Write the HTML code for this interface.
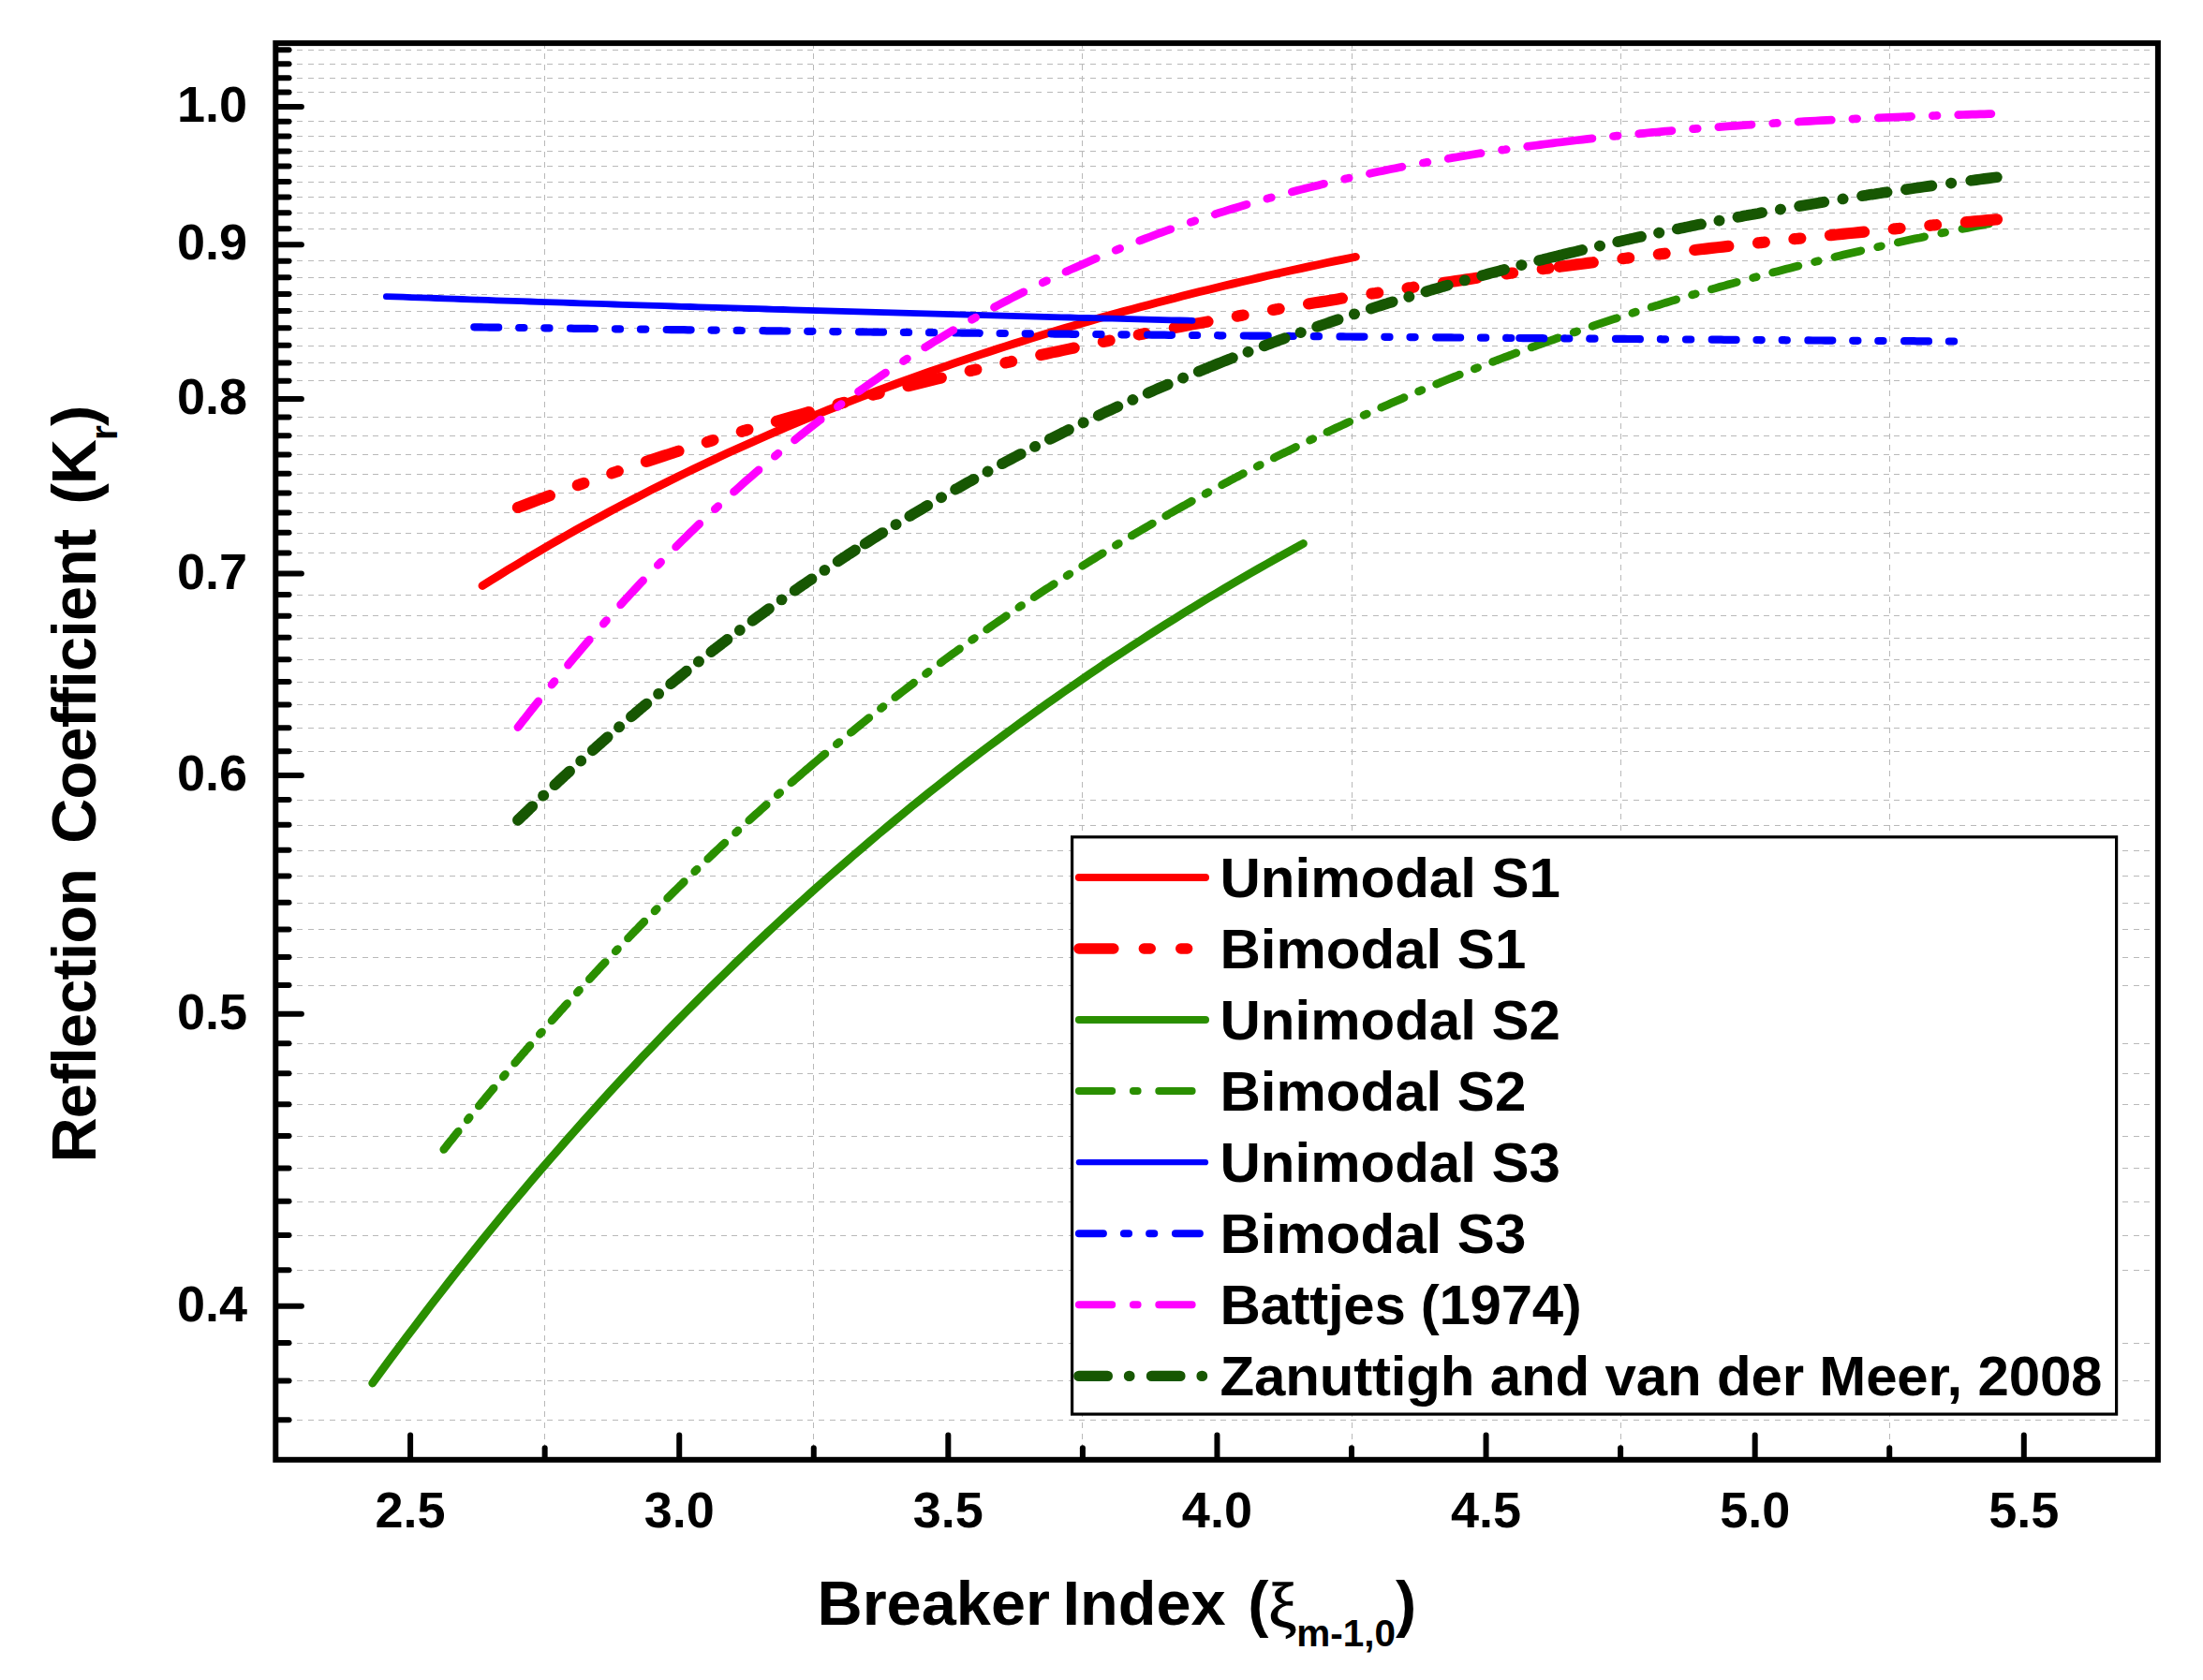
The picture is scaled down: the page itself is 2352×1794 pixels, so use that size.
<!DOCTYPE html>
<html lang="en"><head><meta charset="utf-8"><title>Reflection Coefficient vs Breaker Index</title>
<style>html,body{margin:0;padding:0;background:#fff}svg{display:block}text{font-family:"Liberation Sans",Arial,Helvetica,sans-serif;font-weight:bold;fill:#000;font-variant-ligatures:none}.xi{font-family:"Liberation Serif","DejaVu Serif",serif;font-weight:normal;stroke:#000;stroke-width:1.3px}</style></head><body>
<svg width="2352" height="1794" viewBox="0 0 2352 1794">
<rect width="2352" height="1794" fill="#fff"/>
<g stroke="#b9b9b9" stroke-width="1" stroke-dasharray="6 5.6" fill="none" shape-rendering="crispEdges">
<line x1="294" y1="1516.5" x2="2301" y2="1516.5"/>
<line x1="294" y1="1474.5" x2="2301" y2="1474.5"/>
<line x1="294" y1="1434.5" x2="2301" y2="1434.5"/>
<line x1="294" y1="1356.5" x2="2301" y2="1356.5"/>
<line x1="294" y1="1319.5" x2="2301" y2="1319.5"/>
<line x1="294" y1="1283.5" x2="2301" y2="1283.5"/>
<line x1="294" y1="1247.5" x2="2301" y2="1247.5"/>
<line x1="294" y1="1213.5" x2="2301" y2="1213.5"/>
<line x1="294" y1="1179.5" x2="2301" y2="1179.5"/>
<line x1="294" y1="1146.5" x2="2301" y2="1146.5"/>
<line x1="294" y1="1114.5" x2="2301" y2="1114.5"/>
<line x1="294" y1="1052.5" x2="2301" y2="1052.5"/>
<line x1="294" y1="1022.5" x2="2301" y2="1022.5"/>
<line x1="294" y1="992.5" x2="2301" y2="992.5"/>
<line x1="294" y1="964.5" x2="2301" y2="964.5"/>
<line x1="294" y1="935.5" x2="2301" y2="935.5"/>
<line x1="294" y1="908.5" x2="2301" y2="908.5"/>
<line x1="294" y1="881.5" x2="2301" y2="881.5"/>
<line x1="294" y1="854.5" x2="2301" y2="854.5"/>
<line x1="294" y1="802.5" x2="2301" y2="802.5"/>
<line x1="294" y1="777.5" x2="2301" y2="777.5"/>
<line x1="294" y1="752.5" x2="2301" y2="752.5"/>
<line x1="294" y1="728.5" x2="2301" y2="728.5"/>
<line x1="294" y1="704.5" x2="2301" y2="704.5"/>
<line x1="294" y1="681.5" x2="2301" y2="681.5"/>
<line x1="294" y1="657.5" x2="2301" y2="657.5"/>
<line x1="294" y1="635.5" x2="2301" y2="635.5"/>
<line x1="294" y1="590.5" x2="2301" y2="590.5"/>
<line x1="294" y1="569.5" x2="2301" y2="569.5"/>
<line x1="294" y1="547.5" x2="2301" y2="547.5"/>
<line x1="294" y1="526.5" x2="2301" y2="526.5"/>
<line x1="294" y1="506.5" x2="2301" y2="506.5"/>
<line x1="294" y1="485.5" x2="2301" y2="485.5"/>
<line x1="294" y1="465.5" x2="2301" y2="465.5"/>
<line x1="294" y1="445.5" x2="2301" y2="445.5"/>
<line x1="294" y1="406.5" x2="2301" y2="406.5"/>
<line x1="294" y1="387.5" x2="2301" y2="387.5"/>
<line x1="294" y1="369.5" x2="2301" y2="369.5"/>
<line x1="294" y1="350.5" x2="2301" y2="350.5"/>
<line x1="294" y1="332.5" x2="2301" y2="332.5"/>
<line x1="294" y1="314.5" x2="2301" y2="314.5"/>
<line x1="294" y1="296.5" x2="2301" y2="296.5"/>
<line x1="294" y1="278.5" x2="2301" y2="278.5"/>
<line x1="294" y1="244.5" x2="2301" y2="244.5"/>
<line x1="294" y1="227.5" x2="2301" y2="227.5"/>
<line x1="294" y1="210.5" x2="2301" y2="210.5"/>
<line x1="294" y1="194.5" x2="2301" y2="194.5"/>
<line x1="294" y1="177.5" x2="2301" y2="177.5"/>
<line x1="294" y1="161.5" x2="2301" y2="161.5"/>
<line x1="294" y1="145.5" x2="2301" y2="145.5"/>
<line x1="294" y1="129.5" x2="2301" y2="129.5"/>
<line x1="294" y1="98.5" x2="2301" y2="98.5"/>
<line x1="294" y1="83.5" x2="2301" y2="83.5"/>
<line x1="294" y1="68.5" x2="2301" y2="68.5"/>
<line x1="294" y1="53.5" x2="2301" y2="53.5"/>
<line x1="581.5" y1="45.7" x2="581.5" y2="1558.8"/>
<line x1="868.5" y1="45.7" x2="868.5" y2="1558.8"/>
<line x1="1155.5" y1="45.7" x2="1155.5" y2="1558.8"/>
<line x1="1443.5" y1="45.7" x2="1443.5" y2="1558.8"/>
<line x1="1730.5" y1="45.7" x2="1730.5" y2="1558.8"/>
<line x1="2017.5" y1="45.7" x2="2017.5" y2="1558.8"/>
</g>
<g fill="none" stroke-linecap="round" stroke-linejoin="round">
<path d="M397.7,1477.0 L406.7,1464.7 L415.7,1452.4 L424.7,1440.3 L433.8,1428.2 L442.8,1416.3 L451.8,1404.5 L460.8,1392.7 L469.8,1381.1 L478.8,1369.5 L487.8,1358.1 L496.8,1346.7 L505.8,1335.5 L514.8,1324.3 L523.8,1313.2 L532.8,1302.2 L541.8,1291.3 L550.8,1280.5 L559.8,1269.8 L568.8,1259.2 L577.8,1248.6 L586.9,1238.2 L595.9,1227.8 L604.9,1217.5 L613.9,1207.3 L622.9,1197.2 L631.9,1187.2 L640.9,1177.2 L649.9,1167.3 L658.9,1157.5 L667.9,1147.8 L676.9,1138.2 L685.9,1128.6 L694.9,1119.2 L703.9,1109.8 L712.9,1100.4 L721.9,1091.2 L730.9,1082.0 L740.0,1072.9 L749.0,1063.9 L758.0,1054.9 L767.0,1046.1 L776.0,1037.3 L785.0,1028.5 L794.0,1019.9 L803.0,1011.3 L812.0,1002.7 L821.0,994.3 L830.0,985.9 L839.0,977.6 L848.0,969.3 L857.0,961.2 L866.0,953.0 L875.0,945.0 L884.0,937.0 L893.1,929.1 L902.1,921.3 L911.1,913.5 L920.1,905.8 L929.1,898.1 L938.1,890.5 L947.1,883.0 L956.1,875.5 L965.1,868.1 L974.1,860.7 L983.1,853.5 L992.1,846.2 L1001.1,839.1 L1010.1,832.0 L1019.1,824.9 L1028.1,817.9 L1037.1,811.0 L1046.2,804.1 L1055.2,797.3 L1064.2,790.6 L1073.2,783.9 L1082.2,777.2 L1091.2,770.6 L1100.2,764.1 L1109.2,757.6 L1118.2,751.2 L1127.2,744.8 L1136.2,738.5 L1145.2,732.3 L1154.2,726.1 L1163.2,719.9 L1172.2,713.8 L1181.2,707.7 L1190.2,701.8 L1199.3,695.8 L1208.3,689.9 L1217.3,684.1 L1226.3,678.3 L1235.3,672.5 L1244.3,666.8 L1253.3,661.2 L1262.3,655.6 L1271.3,650.0 L1280.3,644.5 L1289.3,639.1 L1298.3,633.7 L1307.3,628.3 L1316.3,623.0 L1325.3,617.7 L1334.3,612.5 L1343.3,607.4 L1352.4,602.2 L1361.4,597.2 L1370.4,592.1 L1379.4,587.1 L1388.4,582.2 L1391.4,580.5" stroke="#2a8f00" stroke-width="8.8"/>
<path d="M473.8,1227.5 L475.3,1225.6 L476.8,1223.7 L478.3,1221.8 L479.8,1219.9 L481.3,1218.0 L482.8,1216.2 L484.3,1214.3 L485.8,1212.4 L487.3,1210.5 L488.8,1208.7 L489.2,1208.2 M499.2,1195.8 L499.3,1195.7 L500.8,1193.8 L501.2,1193.3 M511.3,1181.0 L512.8,1179.2 L514.3,1177.4 L515.8,1175.5 L517.3,1173.7 L518.8,1171.9 L520.3,1170.1 L521.8,1168.3 L523.3,1166.5 L524.8,1164.7 L526.3,1162.9 L527.1,1162.0 M537.3,1149.8 L538.3,1148.6 L539.4,1147.3 M549.7,1135.2 L550.3,1134.5 L551.8,1132.7 L553.3,1131.0 L554.8,1129.2 L556.3,1127.5 L557.8,1125.7 L559.3,1124.0 L560.8,1122.3 L562.3,1120.5 L563.8,1118.8 L565.3,1117.1 L565.9,1116.4 M576.3,1104.4 L577.3,1103.3 L578.5,1102.0 M589.0,1090.0 L589.3,1089.7 L590.8,1088.0 L592.3,1086.4 L593.8,1084.7 L595.3,1083.0 L596.8,1081.3 L598.3,1079.6 L599.8,1078.0 L601.3,1076.3 L602.8,1074.6 L604.3,1073.0 L605.6,1071.6 M616.3,1059.8 L616.3,1059.7 L617.8,1058.1 L618.5,1057.4 M629.3,1045.6 L629.8,1045.0 L631.3,1043.4 L632.8,1041.8 L634.3,1040.2 L635.8,1038.6 L637.3,1037.0 L638.8,1035.3 L640.3,1033.7 L641.8,1032.1 L643.3,1030.5 L644.8,1028.9 L646.2,1027.5 M657.2,1015.9 L658.3,1014.7 L659.4,1013.5 M670.5,1002.0 L671.8,1000.6 L673.3,999.0 L674.8,997.4 L676.3,995.9 L677.8,994.3 L679.3,992.8 L680.9,991.3 L682.4,989.7 L683.9,988.2 L685.4,986.6 L686.9,985.1 L687.8,984.2 M699.0,972.8 L700.4,971.4 L701.3,970.5 M712.6,959.2 L713.9,957.9 L715.4,956.4 L716.9,954.9 L718.4,953.4 L719.9,951.9 L721.4,950.5 L722.9,949.0 L724.4,947.5 L725.9,946.0 L727.4,944.6 L728.9,943.1 L730.3,941.7 M741.7,930.6 L742.4,929.9 L743.9,928.5 L744.1,928.3 M755.7,917.2 L755.9,917.0 L758.9,914.1 L761.9,911.3 L764.9,908.4 L767.9,905.6 L770.9,902.8 L773.8,900.1 M785.5,889.2 L785.9,888.8 L787.4,887.4 L787.9,886.9 M799.7,876.1 L800.9,875.0 L803.9,872.3 L806.9,869.6 L809.9,866.9 L812.9,864.1 L815.9,861.4 L818.2,859.4 M830.2,848.7 L830.9,848.1 L832.4,846.8 L832.7,846.5 M844.8,835.9 L845.9,834.9 L847.4,833.6 L848.9,832.3 L850.4,831.0 L851.9,829.7 L853.4,828.4 L854.9,827.1 L856.4,825.8 L857.9,824.5 L859.4,823.2 L860.9,822.0 L861.9,821.1 M861.9,821.1 L862.4,820.7 L865.4,818.1 L868.4,815.5 L871.4,813.0 L874.4,810.5 L877.4,807.9 L880.4,805.4 L880.9,805.0 M893.3,794.7 L893.9,794.1 L895.4,792.9 L895.9,792.5 M908.3,782.3 L909.0,781.8 L912.0,779.3 L915.0,776.9 L918.0,774.5 L921.0,772.0 L924.0,769.6 L927.0,767.2 L927.8,766.6 M940.4,756.5 L940.5,756.5 L942.0,755.3 L943.0,754.5 M955.7,744.5 L957.0,743.5 L960.0,741.2 L963.0,738.9 L966.0,736.6 L969.0,734.3 L972.0,732.0 L975.0,729.7 L975.6,729.2 M988.5,719.4 L990.0,718.3 L991.2,717.4 M1004.1,707.8 L1005.0,707.2 L1008.0,704.9 L1011.0,702.7 L1014.0,700.5 L1017.0,698.3 L1020.0,696.2 L1023.0,694.0 L1024.5,692.9 M1037.6,683.4 L1038.0,683.2 L1039.5,682.1 L1040.4,681.5 M1053.6,672.1 L1054.5,671.5 L1057.5,669.4 L1060.5,667.3 L1063.5,665.2 L1066.5,663.1 L1069.5,661.1 L1072.5,659.0 L1074.4,657.7 M1087.8,648.5 L1089.0,647.7 L1090.5,646.7 L1090.6,646.7 M1104.1,637.6 L1105.5,636.7 L1108.5,634.7 L1111.5,632.7 L1114.5,630.7 L1117.5,628.7 L1120.5,626.8 L1123.5,624.8 L1125.3,623.7 M1139.1,614.8 L1140.1,614.2 L1141.6,613.2 L1141.9,613.0 M1155.7,604.2 L1156.6,603.7 L1159.6,601.8 L1162.6,599.9 L1165.6,598.1 L1168.6,596.2 L1171.6,594.3 L1174.6,592.5 L1177.3,590.8 M1191.4,582.2 L1192.6,581.5 L1194.1,580.6 L1194.3,580.5 M1208.3,572.0 L1209.1,571.6 L1212.1,569.8 L1215.1,568.0 L1218.1,566.3 L1221.1,564.5 L1224.1,562.7 L1227.1,561.0 L1230.1,559.2 L1230.4,559.1 M1244.7,550.8 L1245.1,550.6 L1246.6,549.8 L1247.7,549.1 M1250.0,547.8 L1251.1,547.2 L1254.1,545.5 L1257.1,543.8 L1260.1,542.1 L1263.1,540.4 L1266.1,538.8 L1269.1,537.1 L1272.1,535.4 L1272.4,535.2 M1287.0,527.3 L1287.1,527.2 L1288.6,526.4 L1290.0,525.6 M1304.6,517.8 L1305.1,517.5 L1308.1,515.9 L1311.1,514.3 L1314.1,512.7 L1317.1,511.1 L1320.1,509.5 L1323.1,508.0 L1326.1,506.4 L1327.4,505.7 M1342.2,498.1 L1342.6,497.9 L1344.1,497.1 L1345.3,496.5 M1360.2,489.0 L1360.6,488.7 L1363.6,487.2 L1366.7,485.7 L1369.7,484.2 L1372.7,482.8 L1375.7,481.3 L1378.7,479.8 L1381.7,478.3 L1383.5,477.4 M1398.6,470.1 L1399.7,469.6 L1401.2,468.9 L1401.7,468.6 M1416.9,461.4 L1417.7,461.1 L1420.7,459.6 L1423.7,458.2 L1426.7,456.8 L1429.7,455.5 L1432.7,454.1 L1435.7,452.7 L1438.7,451.3 L1440.7,450.4 M1456.1,443.4 L1456.7,443.1 L1458.2,442.5 L1459.3,442.0 M1474.7,435.1 L1476.2,434.5 L1479.2,433.2 L1482.2,431.9 L1485.2,430.6 L1488.2,429.3 L1491.2,428.0 L1494.2,426.7 L1497.2,425.4 L1499.0,424.6 M1514.6,418.0 L1515.2,417.7 L1516.7,417.1 L1517.9,416.6 M1533.6,410.1 L1534.7,409.7 L1537.7,408.4 L1540.7,407.2 L1543.7,406.0 L1546.7,404.8 L1549.7,403.6 L1552.7,402.4 L1555.7,401.2 L1558.3,400.1 M1574.3,393.8 L1575.2,393.5 L1576.7,392.9 L1577.6,392.6 M1593.6,386.4 L1594.8,386.0 L1597.8,384.8 L1600.8,383.7 L1603.8,382.5 L1606.8,381.4 L1609.8,380.3 L1612.8,379.2 L1615.8,378.0 L1618.8,376.9 L1618.8,376.9 M1635.1,371.0 L1635.3,370.9 L1636.8,370.3 L1638.1,369.8 M1638.1,369.8 L1638.3,369.8 L1641.3,368.7 L1644.3,367.6 L1647.3,366.6 L1650.3,365.5 L1653.3,364.4 L1656.3,363.4 L1659.3,362.3 L1662.3,361.2 L1663.7,360.8 M1680.1,355.0 L1680.3,355.0 L1681.8,354.5 L1683.3,354.0 L1683.6,353.9 M1700.1,348.3 L1701.3,347.9 L1704.3,346.9 L1707.3,345.9 L1710.3,344.9 L1713.3,343.9 L1716.3,342.9 L1719.3,341.9 L1722.3,340.9 L1725.3,340.0 L1726.1,339.7 M1742.8,334.3 L1743.3,334.2 L1744.8,333.7 L1746.3,333.2 M1763.1,328.0 L1764.3,327.6 L1767.3,326.7 L1770.3,325.8 L1773.3,324.8 L1776.3,323.9 L1779.3,323.0 L1782.3,322.1 L1785.3,321.2 L1788.3,320.3 L1789.6,319.9 M1806.6,314.9 L1807.8,314.5 L1809.3,314.1 L1810.2,313.8 M1827.3,308.9 L1827.4,308.9 L1831.9,307.6 L1836.4,306.3 L1840.9,305.1 L1845.4,303.8 L1849.9,302.6 L1854.2,301.4 M1871.6,296.6 L1872.4,296.4 L1873.9,296.0 L1875.2,295.7 M1892.6,291.0 L1893.4,290.8 L1897.9,289.7 L1902.4,288.5 L1906.9,287.3 L1911.4,286.2 L1915.9,285.0 L1919.9,284.0 M1937.6,279.6 L1938.4,279.4 L1939.9,279.0 L1941.2,278.7 M1958.9,274.4 L1959.4,274.3 L1963.9,273.2 L1968.4,272.1 L1972.9,271.0 L1977.4,270.0 L1981.9,268.9 L1986.4,267.9 L1986.8,267.8 M2004.7,263.7 L2005.9,263.4 L2007.4,263.1 L2008.4,262.8 M2026.3,258.9 L2026.9,258.7 L2031.4,257.8 L2035.9,256.8 L2040.4,255.8 L2044.9,254.8 L2049.5,253.9 L2054.0,252.9 L2054.6,252.8 M2072.8,249.0 L2073.5,248.8 L2075.0,248.5 L2076.5,248.2 L2076.6,248.2 M2094.9,244.5 L2096.0,244.3 L2100.5,243.4 L2105.0,242.5 L2109.5,241.6 L2114.0,240.7 L2118.5,239.8 L2123.0,239.0 L2123.7,238.8" stroke="#2a8f00" stroke-width="8.7"/>
<path d="M515.0,625.5 L524.1,619.8 L533.1,614.2 L542.1,608.6 L551.1,603.2 L560.1,597.7 L569.1,592.4 L578.1,587.1 L587.1,581.8 L596.1,576.6 L605.1,571.5 L614.1,566.4 L623.1,561.4 L632.1,556.5 L641.2,551.6 L650.2,546.7 L659.2,541.9 L668.2,537.2 L677.2,532.5 L686.2,527.8 L695.2,523.2 L704.2,518.7 L713.2,514.2 L722.2,509.8 L731.2,505.4 L740.2,501.0 L749.3,496.7 L758.3,492.5 L767.3,488.3 L776.3,484.1 L785.3,480.0 L794.3,476.0 L803.3,471.9 L812.3,468.0 L821.3,464.0 L830.3,460.1 L839.3,456.3 L848.3,452.5 L857.3,448.7 L866.4,445.0 L875.4,441.3 L884.4,437.7 L893.4,434.1 L902.4,430.5 L911.4,427.0 L920.4,423.5 L929.4,420.1 L938.4,416.7 L947.4,413.3 L956.4,410.0 L965.4,406.7 L974.5,403.4 L983.5,400.2 L992.5,397.0 L1001.5,393.9 L1010.5,390.8 L1019.5,387.7 L1028.5,384.6 L1037.5,381.6 L1046.5,378.6 L1055.5,375.7 L1064.5,372.8 L1073.5,369.9 L1082.5,367.0 L1091.6,364.2 L1100.6,361.4 L1109.6,358.6 L1118.6,355.9 L1127.6,353.2 L1136.6,350.5 L1145.6,347.9 L1154.6,345.3 L1163.6,342.7 L1172.6,340.1 L1181.6,337.6 L1190.6,335.1 L1199.6,332.6 L1208.7,330.2 L1217.7,327.8 L1226.7,325.4 L1235.7,323.0 L1244.7,320.7 L1253.7,318.4 L1262.7,316.1 L1271.7,313.8 L1280.7,311.6 L1289.7,309.4 L1298.7,307.2 L1307.7,305.0 L1316.8,302.9 L1325.8,300.7 L1334.8,298.7 L1343.8,296.6 L1352.8,294.5 L1361.8,292.5 L1370.8,290.5 L1379.8,288.5 L1388.8,286.6 L1397.8,284.6 L1406.8,282.7 L1415.8,280.8 L1424.8,278.9 L1433.9,277.1 L1442.9,275.2 L1447.4,274.3" stroke="#ff0000" stroke-width="8.8"/>
<path d="M552.9,542.0 L554.4,541.4 L559.0,539.7 L563.5,538.0 L568.0,536.3 L572.5,534.6 L577.0,532.9 L581.5,531.2 L586.0,529.5 L586.9,529.2 M616.8,518.2 L617.5,518.0 L619.0,517.4 L620.5,516.9 L622.0,516.4 L623.3,515.9 M653.3,505.4 L653.5,505.3 L655.0,504.8 L656.5,504.2 L658.0,503.7 L659.5,503.2 L659.8,503.1 M689.9,492.9 L691.0,492.6 L695.5,491.1 L700.1,489.6 L704.6,488.1 L709.1,486.6 L713.6,485.2 L718.1,483.7 L722.6,482.3 L724.5,481.6 M754.8,472.1 L755.6,471.8 L757.1,471.4 L758.6,470.9 L760.1,470.4 L761.4,470.0 M791.8,460.8 L793.1,460.4 L794.6,459.9 L796.1,459.5 L797.6,459.0 L798.4,458.8 M828.9,449.9 L829.1,449.8 L835.1,448.1 L841.2,446.4 L847.2,444.7 L853.2,443.0 L859.2,441.3 L863.9,440.0 M894.6,431.6 L895.2,431.4 L896.7,431.0 L898.2,430.6 L899.7,430.2 L901.2,429.8 L901.2,429.8 M932.0,421.7 L932.7,421.5 L934.2,421.1 L935.7,420.7 L937.2,420.4 L938.7,420.0 M969.5,412.2 L970.2,412.0 L976.2,410.5 L982.3,409.0 L988.3,407.5 L994.3,406.0 L1000.3,404.6 L1004.8,403.5 M1035.7,396.1 L1036.3,396.0 L1037.8,395.6 L1039.3,395.3 L1040.8,394.9 L1042.3,394.6 L1042.4,394.6 M1073.4,387.5 L1073.8,387.4 L1075.3,387.0 L1076.8,386.7 L1078.3,386.4 L1079.8,386.0 L1080.1,385.9 M1111.2,379.1 L1111.3,379.0 L1117.4,377.7 L1123.4,376.4 L1129.4,375.2 L1135.4,373.9 L1141.4,372.6 L1146.7,371.5 M1177.9,365.0 L1178.9,364.8 L1180.4,364.5 L1181.9,364.2 L1183.4,363.9 L1184.6,363.6 M1215.8,357.4 L1216.4,357.3 L1217.9,357.0 L1219.4,356.7 L1220.9,356.4 L1222.4,356.1 L1222.6,356.1 M1253.8,350.0 L1253.9,350.0 L1260.0,348.9 L1266.0,347.7 L1272.0,346.6 L1278.0,345.5 L1284.0,344.4 L1289.5,343.4 M1320.8,337.7 L1321.5,337.6 L1323.0,337.3 L1324.5,337.0 L1326.0,336.7 L1327.5,336.5 L1327.6,336.5 M1358.9,331.0 L1359.0,331.0 L1360.5,330.7 L1362.0,330.4 L1363.5,330.2 L1365.0,329.9 L1365.7,329.8 M1397.1,324.5 L1398.1,324.3 L1404.1,323.3 L1410.1,322.4 L1416.1,321.4 L1422.1,320.4 L1428.1,319.4 L1432.9,318.6 M1464.4,313.6 L1465.6,313.4 L1467.1,313.2 L1468.6,313.0 L1470.1,312.7 L1471.2,312.6 M1502.6,307.7 L1503.1,307.6 L1504.6,307.4 L1506.1,307.2 L1507.6,307.0 L1509.1,306.7 L1509.4,306.7 M1540.9,302.0 L1542.2,301.8 L1548.2,301.0 L1554.2,300.1 L1560.2,299.2 L1566.2,298.4 L1572.2,297.5 L1576.8,296.8 M1608.3,292.4 L1609.7,292.2 L1611.2,292.0 L1612.7,291.8 L1614.2,291.6 L1615.1,291.5 M1646.7,287.2 L1647.2,287.2 L1648.7,287.0 L1650.2,286.8 L1651.7,286.6 L1653.2,286.4 L1653.5,286.3 M1664.8,284.8 L1665.2,284.8 L1671.2,284.0 L1677.3,283.2 L1683.3,282.4 L1689.3,281.7 L1695.3,280.9 L1700.8,280.2 M1732.4,276.2 L1732.8,276.2 L1734.3,276.0 L1735.8,275.8 L1737.3,275.6 L1738.8,275.4 L1739.2,275.4 M1770.8,271.5 L1771.8,271.4 L1773.3,271.2 L1774.8,271.1 L1776.3,270.9 L1777.6,270.7 M1809.2,267.0 L1809.3,267.0 L1815.4,266.3 L1821.4,265.6 L1827.4,264.9 L1833.4,264.2 L1839.4,263.6 L1845.3,262.9 M1877.0,259.4 L1878.4,259.2 L1879.9,259.1 L1881.4,258.9 L1882.9,258.7 L1883.8,258.6 M1915.4,255.2 L1915.9,255.2 L1917.4,255.0 L1918.9,254.9 L1920.4,254.7 L1921.9,254.6 L1922.3,254.5 M1953.9,251.2 L1955.0,251.1 L1961.0,250.5 L1967.0,249.9 L1973.0,249.3 L1979.0,248.7 L1985.0,248.1 L1990.1,247.6 M2021.7,244.5 L2022.5,244.4 L2024.0,244.3 L2025.5,244.1 L2027.0,244.0 L2028.5,243.8 L2028.6,243.8 M2060.3,240.8 L2061.5,240.7 L2063.0,240.5 L2064.5,240.4 L2066.0,240.3 L2067.1,240.2 M2098.8,237.2 L2099.1,237.2 L2103.6,236.8 L2108.1,236.4 L2112.6,236.0 L2117.1,235.6 L2121.6,235.2 L2126.1,234.8 L2130.6,234.4 L2132.1,234.3" stroke="#ff0000" stroke-width="12.2"/>
<path d="M412.4,316.6 L421.4,316.9 L430.4,317.2 L439.4,317.6 L448.4,317.9 L457.4,318.2 L466.4,318.5 L475.5,318.9 L484.5,319.2 L493.5,319.5 L502.5,319.8 L511.5,320.1 L520.5,320.4 L529.5,320.8 L538.5,321.1 L547.6,321.4 L556.6,321.7 L565.6,322.0 L574.6,322.3 L583.6,322.6 L592.6,322.9 L601.6,323.2 L610.6,323.5 L619.7,323.8 L628.7,324.1 L637.7,324.4 L646.7,324.7 L655.7,325.0 L664.7,325.3 L673.7,325.6 L682.7,325.8 L691.7,326.1 L700.8,326.4 L709.8,326.7 L718.8,327.0 L727.8,327.3 L736.8,327.5 L745.8,327.8 L754.8,328.1 L763.8,328.4 L772.9,328.6 L781.9,328.9 L790.9,329.2 L799.9,329.5 L808.9,329.7 L817.9,330.0 L826.9,330.3 L835.9,330.5 L845.0,330.8 L854.0,331.1 L863.0,331.3 L872.0,331.6 L881.0,331.9 L890.0,332.1 L899.0,332.4 L908.0,332.6 L917.1,332.9 L926.1,333.2 L935.1,333.4 L944.1,333.7 L953.1,333.9 L962.1,334.2 L971.1,334.4 L980.1,334.7 L989.1,334.9 L998.2,335.2 L1007.2,335.4 L1016.2,335.7 L1025.2,335.9 L1034.2,336.2 L1043.2,336.4 L1052.2,336.6 L1061.2,336.9 L1070.3,337.1 L1079.3,337.4 L1088.3,337.6 L1097.3,337.8 L1106.3,338.1 L1115.3,338.3 L1124.3,338.6 L1133.3,338.8 L1142.4,339.0 L1151.4,339.3 L1160.4,339.5 L1169.4,339.7 L1178.4,340.0 L1187.4,340.2 L1196.4,340.4 L1205.4,340.6 L1214.5,340.9 L1223.5,341.1 L1232.5,341.3 L1241.5,341.6 L1250.5,341.8 L1259.5,342.0 L1268.5,342.2 L1273.0,342.3" stroke="#0000ff" stroke-width="6.8"/>
<path d="M506.3,349.3 L507.8,349.3 L510.8,349.4 L513.8,349.4 L516.8,349.5 L519.8,349.5 L522.8,349.6 L525.8,349.6 L528.8,349.6 L531.8,349.7 L532.2,349.7 M554.2,350.0 L554.3,350.0 L555.8,350.0 L557.4,350.0 L558.9,350.0 L559.4,350.0 M581.3,350.3 L581.4,350.3 L582.9,350.4 L584.4,350.4 L585.9,350.4 L586.5,350.4 M609.0,350.7 L609.9,350.7 L612.9,350.8 L615.9,350.8 L618.9,350.8 L621.9,350.9 L624.9,350.9 L627.9,350.9 L630.9,351.0 L633.9,351.0 L634.9,351.0 M656.9,351.3 L657.9,351.3 L659.4,351.3 L660.9,351.4 L662.0,351.4 M684.0,351.7 L684.9,351.7 L686.4,351.7 L687.9,351.7 L689.2,351.7 M711.7,352.0 L711.9,352.0 L716.4,352.1 L721.0,352.1 L725.5,352.2 L730.0,352.2 L734.5,352.3 L737.6,352.3 M759.5,352.6 L760.0,352.6 L761.5,352.6 L763.0,352.6 L764.5,352.6 L764.7,352.6 M786.7,352.9 L787.0,352.9 L788.5,352.9 L790.0,352.9 L791.5,353.0 L791.8,353.0 M814.4,353.2 L815.5,353.2 L818.5,353.3 L821.5,353.3 L824.5,353.3 L827.5,353.4 L830.5,353.4 L833.5,353.4 L836.5,353.5 L839.5,353.5 L840.3,353.5 M862.2,353.8 L863.5,353.8 L865.0,353.8 L866.5,353.8 L867.4,353.8 M889.3,354.1 L890.6,354.1 L892.1,354.1 L893.6,354.1 L894.5,354.1 M917.1,354.4 L917.6,354.4 L920.6,354.4 L923.6,354.5 L926.6,354.5 L929.6,354.5 L932.6,354.6 L935.6,354.6 L938.6,354.6 L941.6,354.7 L943.0,354.7 M964.9,354.9 L965.6,354.9 L967.1,354.9 L968.6,354.9 L970.1,355.0 M992.0,355.2 L992.6,355.2 L994.1,355.2 L995.6,355.2 L997.1,355.2 L997.2,355.2 M1019.7,355.5 L1021.1,355.5 L1024.1,355.5 L1027.1,355.6 L1030.1,355.6 L1033.1,355.6 L1036.1,355.7 L1039.2,355.7 L1042.2,355.7 L1045.2,355.7 L1045.7,355.8 M1067.6,356.0 L1067.7,356.0 L1069.2,356.0 L1070.7,356.0 L1072.2,356.0 L1072.8,356.0 M1094.7,356.3 L1096.2,356.3 L1097.7,356.3 L1099.2,356.3 L1099.9,356.3 M1122.4,356.5 L1123.2,356.5 L1126.2,356.6 L1129.2,356.6 L1132.2,356.6 L1135.2,356.7 L1138.2,356.7 L1141.2,356.7 L1144.2,356.8 L1147.2,356.8 L1148.3,356.8 M1170.3,357.0 L1171.2,357.0 L1172.7,357.0 L1174.2,357.0 L1175.5,357.1 M1197.4,357.3 L1198.3,357.3 L1199.8,357.3 L1201.3,357.3 L1202.6,357.3 M1225.1,357.5 L1225.3,357.5 L1229.8,357.6 L1234.3,357.6 L1238.8,357.7 L1243.3,357.7 L1247.8,357.8 L1251.0,357.8 M1273.0,358.0 L1273.3,358.0 L1274.8,358.0 L1276.3,358.0 L1277.8,358.0 L1278.1,358.0 M1300.1,358.2 L1300.3,358.2 L1301.8,358.3 L1303.3,358.3 L1304.8,358.3 L1305.3,358.3 M1327.8,358.5 L1328.8,358.5 L1331.8,358.5 L1334.8,358.6 L1337.8,358.6 L1340.8,358.6 L1343.8,358.6 L1346.8,358.7 L1349.8,358.7 L1352.8,358.7 L1353.7,358.7 M1375.6,358.9 L1376.9,358.9 L1378.4,359.0 L1379.9,359.0 L1380.8,359.0 M1402.8,359.2 L1403.9,359.2 L1405.4,359.2 L1406.9,359.2 L1408.0,359.2 M1430.5,359.4 L1430.9,359.4 L1433.9,359.4 L1436.9,359.5 L1439.9,359.5 L1442.9,359.5 L1445.9,359.6 L1448.9,359.6 L1451.9,359.6 L1454.9,359.6 L1456.4,359.6 M1478.3,359.8 L1478.9,359.8 L1480.4,359.9 L1481.9,359.9 L1483.4,359.9 L1483.5,359.9 M1505.5,360.1 L1505.9,360.1 L1507.4,360.1 L1508.9,360.1 L1510.4,360.1 L1510.6,360.1 M1533.2,360.3 L1534.5,360.3 L1537.5,360.3 L1540.5,360.4 L1543.5,360.4 L1546.5,360.4 L1549.5,360.4 L1552.5,360.5 L1555.5,360.5 L1558.5,360.5 L1559.1,360.5 M1581.0,360.7 L1582.5,360.7 L1584.0,360.7 L1585.5,360.7 L1586.2,360.7 M1608.1,360.9 L1609.5,360.9 L1611.0,361.0 L1612.5,361.0 L1613.3,361.0 M1622.3,361.0 L1623.0,361.0 L1626.0,361.1 L1629.0,361.1 L1632.0,361.1 L1635.0,361.1 L1638.0,361.2 L1641.0,361.2 L1644.0,361.2 L1647.0,361.2 L1648.2,361.3 M1670.2,361.4 L1671.0,361.4 L1672.5,361.5 L1674.0,361.5 L1675.3,361.5 M1697.3,361.6 L1698.1,361.7 L1699.6,361.7 L1701.1,361.7 L1702.5,361.7 M1725.0,361.9 L1725.1,361.9 L1729.6,361.9 L1734.1,361.9 L1738.6,362.0 L1743.1,362.0 L1747.6,362.0 L1750.9,362.1 M1772.9,362.2 L1773.1,362.2 L1774.6,362.3 L1776.1,362.3 L1777.6,362.3 L1778.0,362.3 M1800.0,362.5 L1800.1,362.5 L1801.6,362.5 L1803.1,362.5 L1804.6,362.5 L1805.2,362.5 M1827.7,362.7 L1828.6,362.7 L1831.6,362.7 L1834.6,362.7 L1837.6,362.7 L1840.7,362.8 L1843.7,362.8 L1846.7,362.8 L1849.7,362.8 L1852.7,362.9 L1853.6,362.9 M1875.5,363.0 L1876.7,363.0 L1878.2,363.0 L1879.7,363.1 L1880.7,363.1 M1902.7,363.2 L1903.7,363.2 L1905.2,363.2 L1906.7,363.3 L1907.8,363.3 M1930.4,363.4 L1930.7,363.4 L1935.2,363.5 L1939.7,363.5 L1944.2,363.5 L1948.7,363.6 L1953.2,363.6 L1956.3,363.6 M1978.2,363.8 L1978.7,363.8 L1980.2,363.8 L1981.7,363.8 L1983.2,363.8 L1983.4,363.8 M2005.3,364.0 L2005.8,364.0 L2007.3,364.0 L2008.8,364.0 L2010.3,364.0 L2010.5,364.0 M2033.1,364.2 L2034.3,364.2 L2037.3,364.2 L2040.3,364.2 L2043.3,364.2 L2046.3,364.3 L2049.3,364.3 L2052.3,364.3 L2055.3,364.3 L2058.3,364.4 L2059.0,364.4 M2080.9,364.5 L2082.3,364.5 L2083.8,364.5 L2085.3,364.5 L2086.1,364.5" stroke="#0000ff" stroke-width="8.2"/>
<path d="M552.9,776.6 L554.4,774.7 L557.4,770.8 L560.5,767.0 L563.5,763.1 L566.5,759.3 L569.5,755.5 L572.5,751.8 L574.8,748.9 M589.0,731.2 L590.5,729.4 L592.0,727.6 L592.0,727.6 M606.5,710.1 L607.0,709.4 L610.0,705.9 L613.0,702.3 L616.0,698.8 L619.0,695.2 L622.0,691.7 L625.0,688.2 L628.0,684.7 L629.3,683.2 M644.3,666.1 L644.5,665.9 L646.0,664.2 L647.4,662.6 M662.6,645.7 L664.0,644.2 L667.0,640.9 L670.0,637.7 L673.0,634.4 L676.0,631.2 L679.0,628.0 L682.0,624.8 L685.0,621.6 L686.6,619.9 M702.3,603.5 L703.1,602.8 L704.6,601.2 L705.6,600.1 M721.6,584.0 L722.6,583.0 L725.6,580.0 L728.6,577.0 L731.6,574.1 L734.6,571.1 L737.6,568.2 L740.6,565.3 L743.6,562.4 L746.6,559.5 L746.8,559.3 M763.3,543.7 L764.6,542.5 L766.1,541.1 L766.8,540.5 M783.5,525.2 L784.1,524.7 L788.6,520.6 L793.1,516.6 L797.6,512.6 L802.1,508.7 L806.6,504.8 L810.0,501.9 M827.3,487.2 L827.6,486.9 L829.1,485.6 L830.6,484.4 L830.9,484.2 M848.5,469.8 L848.7,469.7 L853.2,466.0 L857.7,462.5 L862.2,458.9 L866.7,455.4 L871.2,451.9 L875.7,448.4 L876.2,448.0 M894.4,434.3 L895.2,433.7 L896.7,432.6 L898.1,431.5 M916.5,418.2 L917.7,417.4 L922.2,414.2 L926.7,411.0 L931.2,407.9 L935.7,404.8 L940.2,401.7 L944.7,398.7 L945.5,398.1 M964.5,385.6 L965.7,384.8 L967.2,383.8 L968.4,383.0 M987.6,370.9 L988.3,370.5 L992.8,367.7 L997.3,364.9 L1001.8,362.2 L1006.3,359.5 L1010.8,356.8 L1015.3,354.1 L1017.8,352.6 M1037.5,341.3 L1037.8,341.1 L1039.3,340.3 L1040.8,339.5 L1041.6,339.0 M1061.5,328.1 L1061.8,327.9 L1066.3,325.5 L1070.8,323.2 L1075.3,320.8 L1079.8,318.5 L1084.3,316.1 L1088.8,313.8 L1092.8,311.8 M1113.2,301.8 L1114.3,301.2 L1115.8,300.5 L1117.4,299.8 L1117.4,299.8 M1138.0,290.2 L1138.4,290.0 L1142.9,287.9 L1147.4,285.9 L1151.9,283.9 L1156.4,281.9 L1160.9,279.9 L1165.4,278.0 L1169.9,276.0 L1170.3,275.9 M1191.2,267.2 L1192.4,266.7 L1193.9,266.1 L1195.4,265.5 L1195.6,265.4 M1216.7,257.1 L1217.9,256.6 L1222.4,254.9 L1226.9,253.2 L1231.4,251.5 L1235.9,249.8 L1240.4,248.2 L1244.9,246.5 L1249.4,244.9 L1249.8,244.8 M1271.2,237.3 L1272.0,237.1 L1273.5,236.6 L1275.0,236.1 L1275.7,235.8 M1297.3,228.8 L1297.5,228.7 L1302.0,227.2 L1306.5,225.8 L1311.0,224.4 L1315.5,223.0 L1320.0,221.7 L1324.5,220.3 L1329.0,219.0 L1331.0,218.4 M1352.8,212.1 L1353.0,212.1 L1354.5,211.6 L1356.0,211.2 L1357.3,210.9 M1379.3,204.9 L1380.0,204.7 L1384.5,203.6 L1389.0,202.4 L1393.5,201.3 L1398.1,200.1 L1402.6,199.0 L1407.1,197.9 L1411.6,196.8 L1413.5,196.3 M1435.6,191.2 L1437.1,190.8 L1438.6,190.5 L1440.1,190.1 L1440.2,190.1 M1462.4,185.3 L1462.6,185.2 L1467.1,184.3 L1471.6,183.3 L1476.1,182.4 L1480.6,181.5 L1485.1,180.6 L1489.6,179.7 L1494.1,178.8 L1496.9,178.2 M1519.3,174.0 L1519.6,174.0 L1521.1,173.7 L1522.6,173.4 L1523.9,173.2 M1546.2,169.3 L1546.7,169.2 L1551.2,168.4 L1555.7,167.7 L1560.2,166.9 L1564.7,166.2 L1569.2,165.5 L1573.7,164.8 L1578.2,164.0 L1581.1,163.6 M1603.5,160.2 L1603.7,160.2 L1605.2,160.0 L1606.7,159.8 L1608.2,159.5 M1630.7,156.4 L1630.7,156.4 L1635.2,155.8 L1639.7,155.2 L1644.2,154.6 L1648.7,154.0 L1653.2,153.5 L1657.7,152.9 L1662.2,152.3 L1664.8,152.0 M1664.8,152.0 L1665.2,152.0 L1671.2,151.2 L1677.3,150.5 L1683.3,149.8 L1689.3,149.1 L1695.3,148.4 L1699.9,147.9 M1722.4,145.5 L1723.8,145.4 L1725.3,145.2 L1726.8,145.1 L1727.1,145.0 M1749.7,142.8 L1750.8,142.7 L1755.3,142.3 L1759.8,141.8 L1764.3,141.4 L1768.8,141.0 L1773.3,140.6 L1777.8,140.2 L1782.3,139.8 L1784.9,139.6 M1807.5,137.7 L1807.8,137.7 L1809.3,137.6 L1810.8,137.4 L1812.2,137.3 M1834.8,135.6 L1834.9,135.6 L1840.9,135.2 L1846.9,134.7 L1852.9,134.3 L1858.9,133.9 L1864.9,133.5 L1870.0,133.1 M1892.7,131.7 L1893.4,131.6 L1894.9,131.5 L1896.4,131.4 L1897.4,131.4 M1920.0,130.1 L1920.4,130.0 L1926.4,129.7 L1932.4,129.4 L1938.4,129.0 L1944.4,128.7 L1950.4,128.4 L1955.3,128.2 M1977.9,127.1 L1979.0,127.0 L1980.5,126.9 L1982.0,126.9 L1982.6,126.8 M2005.3,125.8 L2006.0,125.8 L2012.0,125.5 L2018.0,125.3 L2024.0,125.1 L2030.0,124.8 L2036.0,124.6 L2040.6,124.4 M2063.3,123.6 L2064.5,123.5 L2066.0,123.5 L2067.5,123.4 L2068.0,123.4 M2090.7,122.6 L2091.5,122.6 L2096.1,122.5 L2100.6,122.3 L2105.1,122.2 L2109.6,122.1 L2114.1,121.9 L2118.6,121.8 L2123.1,121.7 L2125.9,121.6" stroke="#ff00ff" stroke-width="8.7"/>
<path d="M552.9,875.8 L554.4,874.4 L555.9,872.9 L557.4,871.4 L559.0,870.0 L560.5,868.5 L562.0,867.1 L563.5,865.6 L565.0,864.2 L566.5,862.7 L568.0,861.3 L568.3,861.0 M580.0,849.7 L580.3,849.5 M592.3,838.2 L593.5,837.1 L595.0,835.7 L596.5,834.3 L598.0,832.9 L599.5,831.5 L601.0,830.1 L602.5,828.7 L604.0,827.4 L605.5,826.0 L607.0,824.6 L608.1,823.6 M620.1,812.6 L620.3,812.4 M632.7,801.3 L634.0,800.1 L635.5,798.8 L637.0,797.5 L638.5,796.1 L640.0,794.8 L641.5,793.5 L643.0,792.2 L644.5,790.8 L646.0,789.5 L647.5,788.2 L648.7,787.1 M661.0,776.4 L661.3,776.2 M673.9,765.3 L674.5,764.8 L676.0,763.6 L677.5,762.3 L679.0,761.0 L680.5,759.7 L682.0,758.5 L683.5,757.2 L685.0,755.9 L686.5,754.7 L688.0,753.4 L689.5,752.2 L690.4,751.5 M703.0,741.0 L703.1,741.0 L703.2,740.8 M716.1,730.3 L716.6,729.9 L718.1,728.7 L719.6,727.5 L721.1,726.3 L722.6,725.1 L724.1,723.8 L725.6,722.6 L727.1,721.4 L728.6,720.2 L730.1,719.0 L731.6,717.8 L732.9,716.7 M745.8,706.6 L746.1,706.4 M759.3,696.1 L760.1,695.5 L761.6,694.3 L763.1,693.2 L764.6,692.0 L766.1,690.9 L767.6,689.7 L769.1,688.6 L770.6,687.4 L772.1,686.3 L773.6,685.1 L775.1,684.0 L776.5,682.9 M789.7,673.1 L789.9,672.9 M803.4,662.9 L803.6,662.7 L806.6,660.5 L809.6,658.3 L812.6,656.2 L815.6,654.0 L818.6,651.8 L821.0,650.1 M834.5,640.5 L834.7,640.3 M848.5,630.6 L848.7,630.6 L851.7,628.5 L854.7,626.4 L857.7,624.3 L860.7,622.3 L863.7,620.2 L866.5,618.3 M880.3,609.0 L880.5,608.8 M894.6,599.4 L895.2,599.1 L898.2,597.1 L901.2,595.1 L904.2,593.2 L907.2,591.2 L910.2,589.3 L913.0,587.4 M923.6,580.7 L923.7,580.6 L926.7,578.7 L929.7,576.8 L932.7,574.9 L935.7,573.0 L938.7,571.1 L941.7,569.2 L942.2,569.0 M956.4,560.2 L956.7,560.0 M971.3,551.1 L971.7,550.9 L974.7,549.1 L977.8,547.3 L980.8,545.5 L983.8,543.7 L986.8,541.9 L989.8,540.2 L990.3,539.8 M1004.9,531.3 L1005.2,531.2 M1020.1,522.6 L1021.3,522.0 L1024.3,520.3 L1027.3,518.6 L1030.3,516.9 L1033.3,515.2 L1036.3,513.6 L1039.3,511.9 L1039.5,511.8 M1054.4,503.6 L1054.7,503.4 M1069.9,495.2 L1070.8,494.8 L1073.8,493.2 L1076.8,491.6 L1079.8,490.0 L1082.8,488.4 L1085.8,486.8 L1088.8,485.3 L1089.8,484.8 M1104.9,477.0 L1105.2,476.8 M1120.8,468.9 L1121.9,468.4 L1124.9,466.9 L1127.9,465.4 L1130.9,463.9 L1133.9,462.4 L1136.9,461.0 L1139.9,459.5 L1141.0,458.9 M1156.5,451.4 L1156.8,451.3 M1172.7,443.8 L1172.9,443.7 L1175.9,442.2 L1178.9,440.8 L1181.9,439.4 L1184.9,438.1 L1187.9,436.7 L1190.9,435.3 L1193.4,434.2 M1209.2,427.0 L1209.5,426.9 M1225.6,419.7 L1226.9,419.1 L1229.9,417.8 L1232.9,416.5 L1235.9,415.2 L1238.9,413.9 L1241.9,412.6 L1244.9,411.3 L1246.8,410.5 M1262.9,403.7 L1263.0,403.7 L1263.2,403.6 M1279.7,396.7 L1281.0,396.2 L1282.5,395.6 L1284.0,395.0 L1285.5,394.4 L1287.0,393.8 L1288.5,393.2 L1290.0,392.5 L1291.5,391.9 L1293.0,391.3 L1294.2,390.8 M1294.2,390.8 L1294.5,390.7 L1297.5,389.5 L1300.5,388.3 L1303.5,387.1 L1306.5,385.9 L1309.5,384.7 L1312.5,383.6 L1315.5,382.4 L1315.9,382.2 M1332.4,375.8 L1332.7,375.7 M1349.6,369.3 L1350.0,369.2 L1353.0,368.0 L1356.0,366.9 L1359.0,365.8 L1362.0,364.7 L1365.0,363.6 L1368.0,362.5 L1371.0,361.4 L1371.7,361.2 M1388.5,355.1 L1388.9,355.0 M1406.1,348.9 L1407.1,348.6 L1410.1,347.5 L1413.1,346.5 L1416.1,345.5 L1419.1,344.4 L1422.1,343.4 L1425.1,342.4 L1428.1,341.4 L1428.6,341.2 M1445.8,335.4 L1446.1,335.3 L1446.2,335.3 M1463.7,329.6 L1464.1,329.5 L1467.1,328.5 L1470.1,327.5 L1473.1,326.6 L1476.1,325.6 L1479.1,324.7 L1482.1,323.7 L1485.1,322.8 L1486.7,322.3 M1504.2,316.9 L1504.5,316.8 M1522.4,311.4 L1522.6,311.3 L1525.6,310.4 L1528.6,309.5 L1531.6,308.7 L1534.7,307.8 L1537.7,306.9 L1540.7,306.0 L1543.7,305.2 L1545.8,304.5 M1563.6,299.4 L1564.0,299.3 M1582.2,294.3 L1582.7,294.1 L1585.7,293.3 L1588.7,292.5 L1591.7,291.7 L1594.7,290.9 L1597.7,290.1 L1600.7,289.3 L1603.7,288.5 L1606.1,287.8 M1624.2,283.1 L1624.6,283.0 M1643.1,278.2 L1644.2,277.9 L1647.2,277.2 L1650.2,276.4 L1653.2,275.7 L1656.2,274.9 L1659.2,274.2 L1662.2,273.5 L1664.8,272.8 M1664.8,272.8 L1665.2,272.7 L1668.2,272.0 L1671.2,271.2 L1674.3,270.5 L1677.3,269.8 L1680.3,269.1 L1683.3,268.4 L1686.3,267.6 L1689.2,266.9 M1707.8,262.6 L1708.2,262.5 M1727.2,258.2 L1728.3,257.9 L1731.3,257.3 L1734.3,256.6 L1737.3,255.9 L1740.3,255.3 L1743.3,254.6 L1746.3,253.9 L1749.3,253.3 L1752.1,252.7 M1771.0,248.6 L1771.4,248.5 M1790.8,244.5 L1791.3,244.4 L1794.3,243.8 L1797.3,243.2 L1800.3,242.6 L1803.3,241.9 L1806.3,241.3 L1809.3,240.7 L1812.3,240.1 L1815.4,239.5 L1816.1,239.4 M1835.3,235.6 L1835.7,235.6 M1855.4,231.8 L1855.9,231.7 L1858.9,231.2 L1861.9,230.6 L1864.9,230.1 L1867.9,229.5 L1870.9,229.0 L1873.9,228.4 L1876.9,227.9 L1879.9,227.3 L1881.1,227.1 M1900.7,223.6 L1900.9,223.6 L1901.1,223.5 M1921.1,220.1 L1921.9,220.0 L1924.9,219.4 L1927.9,218.9 L1930.9,218.4 L1933.9,217.9 L1936.9,217.4 L1939.9,216.9 L1942.9,216.4 L1945.9,215.9 L1947.3,215.7 M1967.3,212.5 L1967.7,212.4 M1988.0,209.2 L1989.5,209.0 L1992.5,208.6 L1995.5,208.1 L1998.5,207.6 L2001.5,207.2 L2004.5,206.7 L2007.5,206.3 L2010.5,205.8 L2013.5,205.4 L2014.6,205.2 M2034.9,202.3 L2035.3,202.2 M2035.4,202.2 L2036.0,202.1 L2040.5,201.5 L2045.0,200.8 L2049.5,200.2 L2054.0,199.5 L2058.5,198.9 L2062.4,198.4 M2082.9,195.6 L2083.3,195.5 M2104.2,192.8 L2105.1,192.7 L2109.6,192.1 L2114.1,191.5 L2118.6,190.9 L2123.1,190.4 L2127.6,189.8 L2131.9,189.3" stroke="#175702" stroke-width="11.7"/>
</g>
<rect x="294.3" y="46.1" width="2009.6" height="1512.7" fill="none" stroke="#000" stroke-width="6"/>
<g stroke="#000" stroke-width="6" stroke-linecap="round">
<line x1="295.3" y1="1394.66" x2="321.9" y2="1394.66"/>
<line x1="295.3" y1="1082.79" x2="321.9" y2="1082.79"/>
<line x1="295.3" y1="827.98" x2="321.9" y2="827.98"/>
<line x1="295.3" y1="612.54" x2="321.9" y2="612.54"/>
<line x1="295.3" y1="425.92" x2="321.9" y2="425.92"/>
<line x1="295.3" y1="261.30" x2="321.9" y2="261.30"/>
<line x1="295.3" y1="114.05" x2="321.9" y2="114.05"/>
<line x1="295.3" y1="1516.27" x2="308.5" y2="1516.27"/>
<line x1="295.3" y1="1474.54" x2="308.5" y2="1474.54"/>
<line x1="295.3" y1="1434.03" x2="308.5" y2="1434.03"/>
<line x1="295.3" y1="1356.37" x2="308.5" y2="1356.37"/>
<line x1="295.3" y1="1319.09" x2="308.5" y2="1319.09"/>
<line x1="295.3" y1="1282.79" x2="308.5" y2="1282.79"/>
<line x1="295.3" y1="1247.41" x2="308.5" y2="1247.41"/>
<line x1="295.3" y1="1212.90" x2="308.5" y2="1212.90"/>
<line x1="295.3" y1="1179.22" x2="308.5" y2="1179.22"/>
<line x1="295.3" y1="1146.33" x2="308.5" y2="1146.33"/>
<line x1="295.3" y1="1114.20" x2="308.5" y2="1114.20"/>
<line x1="295.3" y1="1052.07" x2="308.5" y2="1052.07"/>
<line x1="295.3" y1="1022.02" x2="308.5" y2="1022.02"/>
<line x1="295.3" y1="992.59" x2="308.5" y2="992.59"/>
<line x1="295.3" y1="963.78" x2="308.5" y2="963.78"/>
<line x1="295.3" y1="935.54" x2="308.5" y2="935.54"/>
<line x1="295.3" y1="907.86" x2="308.5" y2="907.86"/>
<line x1="295.3" y1="880.73" x2="308.5" y2="880.73"/>
<line x1="295.3" y1="854.10" x2="308.5" y2="854.10"/>
<line x1="295.3" y1="802.34" x2="308.5" y2="802.34"/>
<line x1="295.3" y1="777.15" x2="308.5" y2="777.15"/>
<line x1="295.3" y1="752.42" x2="308.5" y2="752.42"/>
<line x1="295.3" y1="728.11" x2="308.5" y2="728.11"/>
<line x1="295.3" y1="704.22" x2="308.5" y2="704.22"/>
<line x1="295.3" y1="680.73" x2="308.5" y2="680.73"/>
<line x1="295.3" y1="657.63" x2="308.5" y2="657.63"/>
<line x1="295.3" y1="634.90" x2="308.5" y2="634.90"/>
<line x1="295.3" y1="590.53" x2="308.5" y2="590.53"/>
<line x1="295.3" y1="568.86" x2="308.5" y2="568.86"/>
<line x1="295.3" y1="547.52" x2="308.5" y2="547.52"/>
<line x1="295.3" y1="526.51" x2="308.5" y2="526.51"/>
<line x1="295.3" y1="505.80" x2="308.5" y2="505.80"/>
<line x1="295.3" y1="485.40" x2="308.5" y2="485.40"/>
<line x1="295.3" y1="465.29" x2="308.5" y2="465.29"/>
<line x1="295.3" y1="445.46" x2="308.5" y2="445.46"/>
<line x1="295.3" y1="406.64" x2="308.5" y2="406.64"/>
<line x1="295.3" y1="387.62" x2="308.5" y2="387.62"/>
<line x1="295.3" y1="368.86" x2="308.5" y2="368.86"/>
<line x1="295.3" y1="350.35" x2="308.5" y2="350.35"/>
<line x1="295.3" y1="332.08" x2="308.5" y2="332.08"/>
<line x1="295.3" y1="314.05" x2="308.5" y2="314.05"/>
<line x1="295.3" y1="296.24" x2="308.5" y2="296.24"/>
<line x1="295.3" y1="278.66" x2="308.5" y2="278.66"/>
<line x1="295.3" y1="244.15" x2="308.5" y2="244.15"/>
<line x1="295.3" y1="227.21" x2="308.5" y2="227.21"/>
<line x1="295.3" y1="210.47" x2="308.5" y2="210.47"/>
<line x1="295.3" y1="193.93" x2="308.5" y2="193.93"/>
<line x1="295.3" y1="177.59" x2="308.5" y2="177.59"/>
<line x1="295.3" y1="161.43" x2="308.5" y2="161.43"/>
<line x1="295.3" y1="145.46" x2="308.5" y2="145.46"/>
<line x1="295.3" y1="129.67" x2="308.5" y2="129.67"/>
<line x1="295.3" y1="98.61" x2="308.5" y2="98.61"/>
<line x1="295.3" y1="83.33" x2="308.5" y2="83.33"/>
<line x1="295.3" y1="68.22" x2="308.5" y2="68.22"/>
<line x1="295.3" y1="53.28" x2="308.5" y2="53.28"/>
<line x1="438.10" y1="1557.8" x2="438.10" y2="1532.4"/>
<line x1="725.22" y1="1557.8" x2="725.22" y2="1532.4"/>
<line x1="1012.33" y1="1557.8" x2="1012.33" y2="1532.4"/>
<line x1="1299.45" y1="1557.8" x2="1299.45" y2="1532.4"/>
<line x1="1586.56" y1="1557.8" x2="1586.56" y2="1532.4"/>
<line x1="1873.68" y1="1557.8" x2="1873.68" y2="1532.4"/>
<line x1="2160.79" y1="1557.8" x2="2160.79" y2="1532.4"/>
<line x1="581.66" y1="1557.8" x2="581.66" y2="1546.2"/>
<line x1="868.77" y1="1557.8" x2="868.77" y2="1546.2"/>
<line x1="1155.89" y1="1557.8" x2="1155.89" y2="1546.2"/>
<line x1="1443.00" y1="1557.8" x2="1443.00" y2="1546.2"/>
<line x1="1730.12" y1="1557.8" x2="1730.12" y2="1546.2"/>
<line x1="2017.23" y1="1557.8" x2="2017.23" y2="1546.2"/>
</g>
<g font-size="54">
<text x="264" y="1410.7" text-anchor="end">0.4</text>
<text x="264" y="1098.8" text-anchor="end">0.5</text>
<text x="264" y="844.0" text-anchor="end">0.6</text>
<text x="264" y="628.5" text-anchor="end">0.7</text>
<text x="264" y="441.9" text-anchor="end">0.8</text>
<text x="264" y="277.3" text-anchor="end">0.9</text>
<text x="264" y="130.1" text-anchor="end">1.0</text>
<text x="438.1" y="1631" text-anchor="middle">2.5</text>
<text x="725.2" y="1631" text-anchor="middle">3.0</text>
<text x="1012.3" y="1631" text-anchor="middle">3.5</text>
<text x="1299.4" y="1631" text-anchor="middle">4.0</text>
<text x="1586.6" y="1631" text-anchor="middle">4.5</text>
<text x="1873.7" y="1631" text-anchor="middle">5.0</text>
<text x="2160.8" y="1631" text-anchor="middle">5.5</text>
</g>
<text x="872.5" y="1734.8" font-size="66.7" xml:space="preserve">Breaker <tspan dx="-5">Index</tspan><tspan dx="5"> (</tspan><tspan class="xi" font-size="67" dy="3">ξ</tspan><tspan font-size="40.5" dy="20">m-1,0</tspan><tspan dy="-23">)</tspan></text>
<text transform="translate(102,1241.5) rotate(-90)" font-size="66.7" style="letter-spacing:-0.87px;word-spacing:9.5px" xml:space="preserve">Reflection Coefficient (K<tspan font-size="40.5" dy="22.6">r</tspan><tspan dy="-22.6">)</tspan></text>
<rect x="1144.6" y="893.8" width="1115.0" height="616.3" fill="#fff" stroke="#000" stroke-width="3.2"/>
<g fill="none" stroke-linecap="round">
<line x1="1151.9" y1="936.9" x2="1287" y2="936.9" stroke="#ff0000" stroke-width="8"/>
<line x1="1151.9" y1="1013.0" x2="1287" y2="1013.0" stroke="#ff0000" stroke-width="11.4" stroke-dasharray="37 32.4 7 32.4 7 32.4"/>
<line x1="1151.9" y1="1089.0" x2="1287" y2="1089.0" stroke="#2a8f00" stroke-width="8"/>
<line x1="1151.9" y1="1165.1" x2="1287" y2="1165.1" stroke="#2a8f00" stroke-width="8" stroke-dasharray="35.3 22.7 4.7 22.7"/>
<line x1="1151.9" y1="1241.2" x2="1287" y2="1241.2" stroke="#0000ff" stroke-width="6.2"/>
<line x1="1151.9" y1="1317.2" x2="1287" y2="1317.2" stroke="#0000ff" stroke-width="8" stroke-dasharray="26 22 5.2 22 5.2 22.6"/>
<line x1="1151.9" y1="1393.3" x2="1287" y2="1393.3" stroke="#ff00ff" stroke-width="8" stroke-dasharray="35.3 22.7 4.7 22.7"/>
<line x1="1151.9" y1="1469.4" x2="1287" y2="1469.4" stroke="#175702" stroke-width="11.4" stroke-dasharray="30.4 23.2 0.4 23.6"/>
</g>
<g font-size="60">
<text x="1302.5" y="957.5">Unimodal S1</text>
<text x="1302.5" y="1033.6">Bimodal S1</text>
<text x="1302.5" y="1109.7">Unimodal S2</text>
<text x="1302.5" y="1185.8">Bimodal S2</text>
<text x="1302.5" y="1261.9">Unimodal S3</text>
<text x="1302.5" y="1338.0">Bimodal S3</text>
<text x="1302.5" y="1414.1" style="letter-spacing:-0.3px">Battjes (1974)</text>
<text x="1302.5" y="1490.2" style="letter-spacing:-0.16px">Zanuttigh and van der Meer, 2008</text>
</g>
</svg></body></html>
